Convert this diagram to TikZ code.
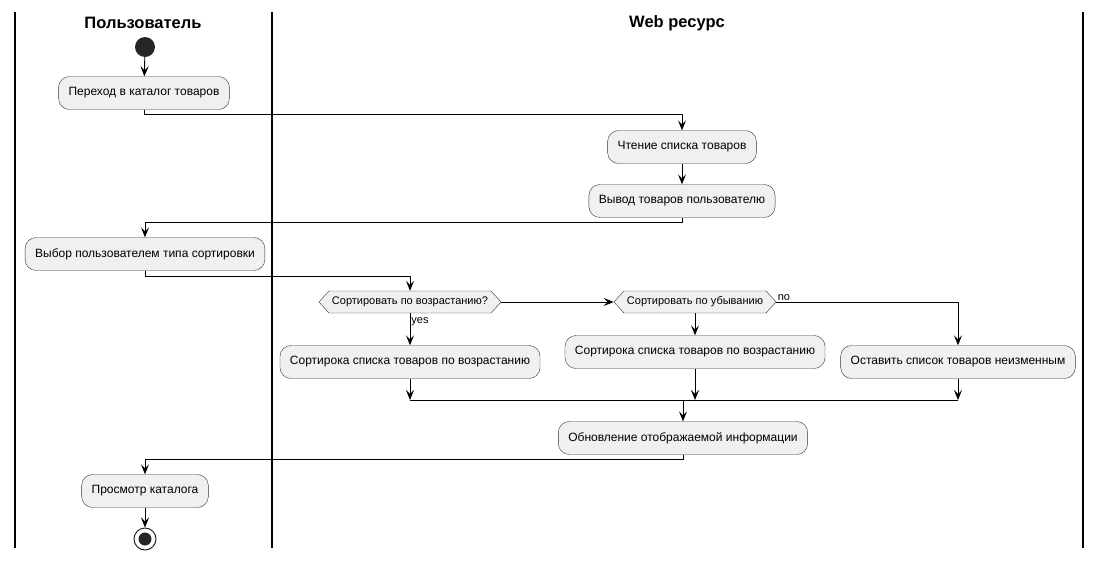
\documentclass[tikz,border=0pt]{standalone}
\usepackage{fontspec}
\setmainfont{Liberation Sans}
\usetikzlibrary{arrows.meta,shapes.symbols}
\begin{document}
\begin{tikzpicture}[x=1pt,y=-1pt,>={Stealth[length=10pt,width=8pt,inset=4pt]}, line join=round,
	act/.style={draw=black!80,fill=black!6,rounded corners=11pt,minimum height=33pt,inner xsep=10pt,font=\fontsize{12}{14}\selectfont},
	choice/.style={draw=black!80,fill=black!6,signal,signal to=east and west,signal pointer angle=95,minimum height=22pt,inner xsep=3pt,inner ysep=2pt,font=\fontsize{11}{13}\selectfont},
	lane/.style={line width=1.6pt},
	flow/.style={->,line width=0.9pt},
	guard/.style={font=\fontsize{11}{13}\selectfont,inner sep=1pt},
	lanetitle/.style={font=\fontsize{16.5}{20}\selectfont\bfseries}]
	\useasboundingbox (0,0) rectangle (1101,560);
	% swimlanes
	\draw[lane] (15,12)--(15,548);
	\draw[lane] (272,12)--(272,548);
	\draw[lane] (1083,12)--(1083,548);
	\node[lanetitle] (user) at (143,23) {Пользователь};
	\node[lanetitle] (web) at (677,23) {Web ресурс};
	% activities
	\node[circle,fill=black!85,minimum size=20pt,inner sep=0pt] (start) at (145,47) {};
	\node[act] (goto) at (144,93) {Переход в каталог товаров};
	\node[act] (read) at (682,147) {Чтение списка товаров};
	\node[act] (show) at (682,201) {Вывод товаров пользователю};
	\node[act] (pick) at (145,254) {Выбор пользователем типа сортировки};
	\node[choice] (asc) at (410,302) {Сортировать по возрастанию?};
	\node[choice] (desc) at (695,302) {Сортировать по убыванию};
	\node[act] (sortasc) at (410,362) {Сортирока списка товаров по возрастанию};
	\node[act] (sortdesc) at (695,352) {Сортирока списка товаров по возрастанию};
	\node[act] (keep) at (958,362) {Оставить список товаров неизменным};
	\node[act] (update) at (683,438) {Обновление отображаемой информации};
	\node[act] (view) at (145,491) {Просмотр каталога};
	\node[circle,draw=black!85,line width=1pt,minimum size=22pt,inner sep=0pt] (stop) at (145,539) {};
	\fill[black!85] (stop.center) circle (6.5pt);
	\coordinate (join) at (683,400);
	% flows
	\draw[flow] (start)--(goto);
	\draw[flow] (goto.south)--++(0,5)-|(read.north);
	\draw[flow] (read)--(show);
	\draw[flow] (show.south)--++(0,5)-|(pick.north);
	\draw[flow] (pick.south)--++(0,6)-|(asc.north);
	\draw[flow] (asc.east)--(desc.west);
	\draw[flow] (asc.south)--(sortasc.north) node [pos=0.25,anchor=west,guard]{yes};
	\draw[flow] (desc.south)--(sortdesc.north);
	\draw[flow] (desc.east)-|(keep.north) node [pos=0,anchor=south west,guard]{no};
	\draw[flow] (sortasc.south)--(sortasc.south|-join);
	\draw[flow] (sortdesc.south)--(sortdesc.south|-join);
	\draw[flow] (keep.south)--(keep.south|-join);
	\draw[line width=0.9pt] (sortasc.south|-join)--(keep.south|-join);
	\draw[flow] (join)--(update.north);
	\draw[flow] (update.south)--++(0,5)-|(view.north);
	\draw[flow] (view)--(stop);
\end{tikzpicture}
\end{document}
